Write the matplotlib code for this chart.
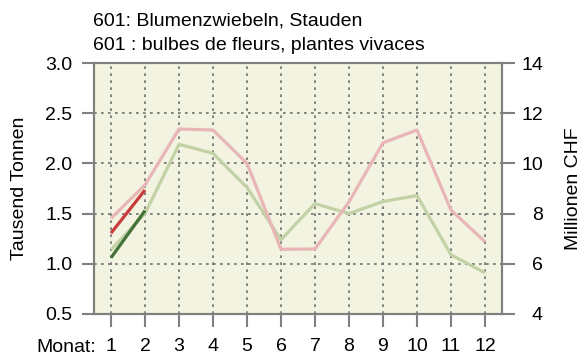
import numpy as np
import matplotlib
matplotlib.use('Agg')
import matplotlib.pyplot as plt

plt.rcParams['font.family'] = ['Liberation Sans', 'DejaVu Sans']

# Monthly values: tonnage (left axis, thousand tonnes) and value (right axis, million CHF)
months = [1, 2, 3, 4, 5, 6, 7, 8, 9, 10, 11, 12]
tonnes_prev = [1.14, 1.50, 2.19, 2.10, 1.76, 1.24, 1.60, 1.50, 1.62, 1.68, 1.09, 0.91]
chf_prev = [7.81, 9.14, 11.37, 11.33, 10.0, 6.58, 6.59, 8.47, 10.82, 11.33, 8.14, 6.88]
months_cur = [1, 2]
tonnes_cur = [1.06, 1.53]
chf_cur = [7.22, 8.94]

left_ticks = [0.5, 1.0, 1.5, 2.0, 2.5, 3.0]
right_ticks = [4, 6, 8, 10, 12, 14]

BG = '#f3f3e1'
AXIS_GREY = '#808080'
GRID_GREY = '#707070'
PINK = '#e9b6b6'
LIGHT_GREEN = '#c2d1a6'
DARK_RED = '#c83c3c'
DARK_GREEN = '#437238'
FS = 14

fig = plt.figure(figsize=(5.85, 3.56), dpi=100)
ax = fig.add_axes([94 / 585, 1 - 314 / 356, 408 / 585, 251 / 356])
ax.set_facecolor(BG)
tw = ax.twinx()

ax.plot(months, tonnes_prev, color=LIGHT_GREEN, lw=2.3, solid_capstyle='butt', zorder=3)
tw.plot(months, chf_prev, color=PINK, lw=2.3, solid_capstyle='butt', zorder=3)
ax.plot(months_cur, tonnes_cur, color=DARK_GREEN, lw=2.3, solid_capstyle='butt', zorder=4)
tw.plot(months_cur, chf_cur, color=DARK_RED, lw=2.3, solid_capstyle='butt', zorder=4)

ax.set_xlim(0.5, 12.5)
ax.set_ylim(0.5, 3.0)
tw.set_ylim(4, 14)
ax.set_xticks(months)
ax.set_xticklabels([str(m) for m in months])
ax.set_yticks(left_ticks)
ax.set_yticklabels([f'{t:.1f}' for t in left_ticks])
tw.set_yticks(right_ticks)
tw.set_yticklabels([str(t) for t in right_ticks], ha='right')

ax.grid(True, color=GRID_GREY, linestyle=(0, (1.6, 2.6)), linewidth=1.2)
ax.set_axisbelow(True)

for a in (ax, tw):
    for s in a.spines.values():
        s.set_color(AXIS_GREY)
        s.set_linewidth(1.5)
    a.tick_params(colors=AXIS_GREY, labelcolor='black', width=1.5, length=9,
                  labelsize=FS)
ax.tick_params(axis='y', pad=6.5)
ax.tick_params(axis='x', pad=8.5)
tw.tick_params(axis='y', pad=20.5)

ax.set_ylabel('Tausend Tonnen', fontsize=FS)
tw.set_ylabel('Millionen CHF', fontsize=FS)
ax.yaxis.set_label_coords(-0.162, 0.5)
tw.yaxis.set_label_coords(1.155, 0.5)

fig.text(93 / 585, 1 - 26 / 356, '601: Blumenzwiebeln, Stauden',
         fontsize=FS, ha='left', va='baseline')
fig.text(93 / 585, 1 - 50.5 / 356, '601 : bulbes de fleurs, plantes vivaces',
         fontsize=FS, ha='left', va='baseline')
fig.text(96 / 585, 1 - 352 / 356, 'Monat:', fontsize=FS, ha='right', va='baseline')

fig.savefig('out.png', dpi=100)
